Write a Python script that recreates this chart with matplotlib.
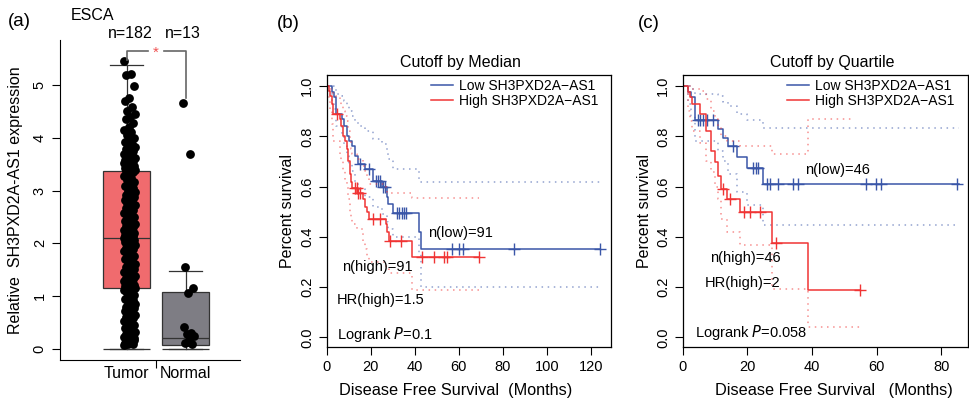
import numpy as np
import matplotlib
matplotlib.use("Agg")
import matplotlib.pyplot as plt
from matplotlib.transforms import blended_transform_factory

plt.rcParams['font.family'] = ['Liberation Sans', 'DejaVu Sans']

# ---------------- data: panel (a) ----------------
groups = ["Tumor", "Normal"]
group_n = ["n=182", "n=13"]
tumor_vals = [
    5.45, 5.20, 5.18, 4.97, 4.75, 4.70, 4.58, 4.50, 4.45, 4.40,
    4.35, 4.28, 4.20, 4.15, 4.10, 4.05, 4.00, 3.96, 3.92, 3.88,
    3.85, 3.82, 3.80, 3.78, 3.75, 3.72, 3.70, 3.68, 3.65, 3.62,
    3.60, 3.58, 3.56, 3.54, 3.52, 3.50, 3.48, 3.46, 3.44, 3.42,
    3.41, 3.40, 3.39, 3.38, 3.37, 3.36,
    3.32, 3.28, 3.24, 3.20, 3.16, 3.12, 3.08, 3.04, 3.00, 2.97,
    2.94, 2.91, 2.88, 2.85, 2.82, 2.79, 2.76, 2.73, 2.70, 2.67,
    2.64, 2.61, 2.58, 2.55, 2.52, 2.49, 2.46, 2.43, 2.40, 2.38,
    2.36, 2.34, 2.32, 2.30, 2.28, 2.26, 2.24, 2.22, 2.20, 2.18,
    2.16, 2.14, 2.12, 2.11, 2.10,
    2.08, 2.06, 2.04, 2.02, 2.00, 1.98, 1.96, 1.94, 1.92, 1.90,
    1.88, 1.85, 1.82, 1.79, 1.76, 1.73, 1.70, 1.67, 1.64, 1.61,
    1.58, 1.55, 1.52, 1.49, 1.46, 1.43, 1.40, 1.38, 1.36, 1.34,
    1.32, 1.30, 1.28, 1.26, 1.24, 1.22, 1.20, 1.19, 1.18, 1.17,
    1.16, 1.155, 1.15, 1.15, 1.14,
    1.12, 1.08, 1.05, 1.02, 0.98, 0.95, 0.92, 0.88, 0.85, 0.82,
    0.80, 0.78, 0.75, 0.72, 0.70, 0.68, 0.65, 0.62, 0.60, 0.58,
    0.55, 0.52, 0.50, 0.48, 0.45, 0.42, 0.40, 0.38, 0.35, 0.33,
    0.30, 0.28, 0.26, 0.24, 0.22, 0.20, 0.18, 0.16, 0.14, 0.12,
    0.10, 0.09, 0.08, 0.15, 0.25, 0.20,
]
normal_vals = [4.65, 3.70, 1.55, 1.15, 1.05, 0.42, 0.30, 0.28, 0.25, 0.15, 0.12, 0.10, 0.13]
box_q1 = [1.15, 0.08]
box_med = [2.10, 0.20]
box_q3 = [3.37, 1.07]
box_whislo = [0.0, 0.0]
box_whishi = [5.38, 1.47]
box_colors = ["#F06B6E", "#7E7D84"]

# ---------------- data: panel (b) median cutoff ----------------
b_low_t = [0, 2.5, 3.5, 4.2, 6.8, 7.9, 9.4, 10.3, 11.3, 12.9, 14.0, 17.4, 21.0, 25.0, 27.2, 28.0, 30.3, 42.0, 43.0, 124]
b_low_s = [1.0, 0.978, 0.956, 0.89, 0.87, 0.84, 0.80, 0.78, 0.76, 0.72, 0.69, 0.67, 0.623, 0.60, 0.56, 0.53, 0.495, 0.42, 0.35, 0.35]
b_low_up = [1.0, 1.0, 0.99, 0.97, 0.96, 0.94, 0.92, 0.90, 0.88, 0.86, 0.84, 0.82, 0.79, 0.77, 0.74, 0.71, 0.668, 0.617, 0.617, 0.617]
b_low_lo = [1.0, 0.94, 0.91, 0.84, 0.80, 0.76, 0.72, 0.69, 0.66, 0.62, 0.59, 0.56, 0.52, 0.49, 0.46, 0.43, 0.40, 0.33, 0.20, 0.20]
b_low_cens = [15.1, 19.4, 22.4, 23.2, 24.2, 25.7, 26.5, 32.0, 33.0, 34.0, 35.0, 36.0, 56.7, 60.0, 61.7, 85.2, 124]

b_high_t = [0, 0.9, 1.6, 2.3, 3.0, 6.0, 6.6, 7.3, 8.2, 9.0, 9.8, 10.4, 11.0, 11.6, 13.8, 16.3, 17.2, 18.2, 19.0, 26.9, 27.6, 28.3, 38.9, 69.1]
b_high_s = [1.0, 0.98, 0.96, 0.93, 0.89, 0.87, 0.84, 0.80, 0.78, 0.75, 0.70, 0.65, 0.62, 0.595, 0.575, 0.55, 0.52, 0.50, 0.47, 0.45, 0.42, 0.385, 0.32, 0.32]
b_high_up = [1.0, 1.0, 0.99, 0.98, 0.96, 0.95, 0.92, 0.90, 0.88, 0.86, 0.82, 0.78, 0.75, 0.73, 0.71, 0.68, 0.66, 0.64, 0.61, 0.59, 0.58, 0.574, 0.553, 0.553]
b_high_lo = [1.0, 0.95, 0.90, 0.85, 0.78, 0.72, 0.70, 0.66, 0.62, 0.60, 0.55, 0.50, 0.48, 0.45, 0.43, 0.38, 0.35, 0.32, 0.30, 0.28, 0.27, 0.255, 0.188, 0.188]
b_high_cens = [4.5, 13.0, 13.7, 14.4, 15.1, 21.2, 24.2, 28.7, 33.7, 43.1, 48.7, 53.3, 54.5, 69.1]

# ---------------- data: panel (c) quartile cutoff ----------------
c_low_t = [0, 1.7, 2.5, 3.9, 10.8, 12.6, 14.1, 16.7, 19.8, 24.9, 85.5]
c_low_s = [1.0, 0.978, 0.957, 0.864, 0.831, 0.793, 0.762, 0.716, 0.674, 0.61, 0.61]
c_low_up = [1.0, 1.0, 0.99, 0.97, 0.96, 0.935, 0.92, 0.89, 0.865, 0.835, 0.835]
c_low_lo = [1.0, 0.93, 0.88, 0.78, 0.74, 0.70, 0.65, 0.58, 0.525, 0.448, 0.448]
c_low_cens = [4.8, 5.5, 6.4, 7.6, 9.5, 15.7, 21.9, 22.7, 23.4, 26.0, 27.0, 29.6, 34.0, 35.8, 56.9, 59.8, 61.5, 85.0]

c_high_t = [0, 1.5, 2.2, 3.0, 5.5, 7.3, 8.8, 10.0, 11.0, 11.9, 13.6, 17.9, 27.7, 38.9, 55.0]
c_high_s = [1.0, 0.975, 0.955, 0.93, 0.888, 0.82, 0.742, 0.696, 0.643, 0.59, 0.551, 0.498, 0.376, 0.19, 0.19]
c_high_up_t = [0, 1.5, 2.2, 3.0, 5.5, 7.3, 8.8, 10.0, 11.0, 11.9, 13.6, 17.9, 27.7, 38.9, 52.8]
c_high_up = [1.0, 1.0, 1.0, 0.99, 0.98, 0.95, 0.90, 0.87, 0.84, 0.80, 0.78, 0.76, 0.73, 0.868, 0.868]
c_high_lo = [1.0, 0.90, 0.86, 0.82, 0.775, 0.70, 0.657, 0.60, 0.55, 0.47, 0.42, 0.366, 0.194, 0.042, 0.042]
c_high_cens = [12.4, 14.6, 19.0, 20.8, 23.9, 28.9, 54.8]

BLUE = "#3A56A8"
RED = "#F03434"

fig = plt.figure(figsize=(9.69, 4.01), dpi=100)

# ================= panel (a) =================
axa = fig.add_axes([0.0619, 0.1022, 0.1858, 0.798])
pos = [1, 2]
stats = []
for i in range(2):
    stats.append(dict(med=box_med[i], q1=box_q1[i], q3=box_q3[i],
                      whislo=box_whislo[i], whishi=box_whishi[i], fliers=[]))
bp = axa.bxp(stats, positions=pos, widths=0.8, patch_artist=True,
             showfliers=False, capwidths=0.55,
             boxprops=dict(linewidth=0.9, edgecolor="#333333"),
             medianprops=dict(color="#333333", linewidth=0.9),
             whiskerprops=dict(color="#333333", linewidth=0.9),
             capprops=dict(color="#333333", linewidth=0.9))
for patch, col in zip(bp['boxes'], box_colors):
    patch.set_facecolor(col)
axa.hlines(box_whislo, [p - 0.4 for p in pos], [p + 0.4 for p in pos],
           color="#333333", linewidth=0.9, zorder=3)

for p, vals in zip(pos, [tumor_vals, normal_vals]):
    v = np.asarray(vals)
    jit = ((np.arange(len(v)) * 0.6180339) % 1.0 - 0.5) * 0.2 + 0.05
    axa.scatter(p + jit, v, s=40, color="black", zorder=4, linewidths=0)

# significance bracket
axa.plot([1, 1, 1.36], [5.48, 5.64, 5.64], color="#666666", lw=1.2, zorder=5)
axa.plot([1.64, 2, 2], [5.64, 5.64, 4.75], color="#666666", lw=1.2, zorder=5)
axa.text(1.5, 5.60, "*", color="#F05050", ha="center", va="center", fontsize=11)

axa.set_xlim(-0.127, 2.92)
axa.set_ylim(-0.21, 5.85)
axa.spines['top'].set_visible(False)
axa.spines['right'].set_visible(False)
axa.set_yticks([0, 1, 2, 3, 4, 5])
axa.set_yticklabels(["0", "1", "2", "3", "4", "5"], rotation=90, va="center", fontsize=10.5)
axa.set_xticks([1.5])
axa.set_xticklabels([""])
axa.set_xticks(pos, groups, minor=True, fontsize=11.5)
axa.tick_params(axis="x", which="minor", length=0, pad=4)
axa.tick_params(axis="both", which="major", length=6, width=0.8)
axa.set_ylabel("Relative  SH3PXD2A-AS1 expression", fontsize=11.5)
axa.yaxis.set_label_coords(-0.203, 0.5)
tr = blended_transform_factory(axa.transData, fig.transFigure)
axa.text(1.06, 1 - 33 / 401, group_n[0], transform=tr, ha="center", va="center", fontsize=11.5)
axa.text(1.95, 1 - 33 / 401, group_n[1], transform=tr, ha="center", va="center", fontsize=11.5)
fig.text(71 / 969, 1 - 16 / 401, "ESCA", ha="left", va="center", fontsize=11.5)
fig.text(8 / 969, 1 - 22 / 401, "(a)", ha="left", va="center", fontsize=13.5)


# ================= KM panels =================
def step_at(t, s, x):
    t = np.asarray(t); s = np.asarray(s)
    idx = np.searchsorted(t, x, side="right") - 1
    return s[np.clip(idx, 0, len(s) - 1)]


def km_panel(ax, curves, xlim, xticks, title, title_x, xlabel, xlabel_x,
             texts, leg_anchor, ylab_x):
    handles = []
    for (t, s, up_t, up, lo, cens, col, lab) in curves:
        h, = ax.step(t, s, where="post", color=col, lw=1.1, label=lab)
        handles.append(h)
        ax.step(up_t, up, where="post", color=col, lw=1.1, alpha=0.55,
                linestyle=(0, (1, 3)))
        ax.step(t, lo, where="post", color=col, lw=1.1, alpha=0.55,
                linestyle=(0, (1, 3)))
        ax.plot(cens, step_at(t, s, cens), linestyle="none", marker="+",
                markersize=8, markeredgewidth=1.0, color=col)
    ax.set_xlim(*xlim)
    ax.set_ylim(-0.04, 1.044)
    ax.set_xticks(xticks)
    ax.set_xticklabels([str(v) for v in xticks], fontsize=10.5)
    ax.set_yticks([0, 0.2, 0.4, 0.6, 0.8, 1.0])
    ax.set_yticklabels(["0.0", "0.2", "0.4", "0.6", "0.8", "1.0"],
                       rotation=90, va="center", fontsize=10.5)
    ax.tick_params(axis="both", length=6, width=0.8, pad=3)
    for sp in ax.spines.values():
        sp.set_linewidth(0.9)
    ax.set_ylabel("Percent survival", fontsize=11.5)
    ax.yaxis.set_label_coords(ylab_x, 0.5)
    fig.text(title_x / 969, 1 - 63 / 401, title, ha="center", va="center", fontsize=11.5)
    fig.text(xlabel_x / 969, 1 - 390 / 401, xlabel, ha="center", va="center", fontsize=11.7)
    for (x, y, txt) in texts:
        ax.text(x, y, txt, ha="left", va="center", fontsize=10.5)
    ax.legend(handles=handles, loc="upper left", bbox_to_anchor=leg_anchor,
              frameon=False, fontsize=10, handlelength=1.6, handletextpad=0.4,
              labelspacing=0.05, borderpad=0.0, borderaxespad=0.0)


axb = fig.add_axes([0.3372, 0.1339, 0.2930, 0.679])
km_panel(axb,
         [(b_low_t, b_low_s, b_low_t, b_low_up, b_low_lo, b_low_cens, BLUE, "Low SH3PXD2A\u2212AS1"),
          (b_high_t, b_high_s, b_high_t, b_high_up, b_high_lo, b_high_cens, RED, "High SH3PXD2A\u2212AS1")],
         (0, 129), [0, 20, 40, 60, 80, 100, 120], "Cutoff by Median", 460,
         "Disease Free Survival  (Months)", 456,
         [(46, 0.415, "n(low)=91"), (6.8, 0.281, "n(high)=91"),
          (4.5, 0.148, "HR(high)=1.5"), (4.5, 0.01, "Logrank $\\it{P}$=0.1")],
         (0.368, 0.985), -0.112)
fig.text(277 / 969, 1 - 24 / 401, "(b)", ha="left", va="center", fontsize=13.5)

axc = fig.add_axes([0.7045, 0.1339, 0.2944, 0.679])
km_panel(axc,
         [(c_low_t, c_low_s, c_low_t, c_low_up, c_low_lo, c_low_cens, BLUE, "Low SH3PXD2A\u2212AS1"),
          (c_high_t, c_high_s, c_high_up_t, c_high_up, c_high_lo, c_high_cens, RED, "High SH3PXD2A\u2212AS1")],
         (0, 88.3), [0, 20, 40, 60, 80], "Cutoff by Quartile", 832,
         "Disease Free Survival   (Months)", 834,
         [(37.8, 0.666, "n(low)=46"), (8.4, 0.317, "n(high)=46"),
          (6.7, 0.218, "HR(high)=2"), (3.8, 0.02, "Logrank $\\it{P}$=0.058")],
         (0.366, 0.985), -0.108)
fig.text(638 / 969, 1 - 24 / 401, "(c)", ha="left", va="center", fontsize=13.5)

fig.savefig("out.png", dpi=100)
